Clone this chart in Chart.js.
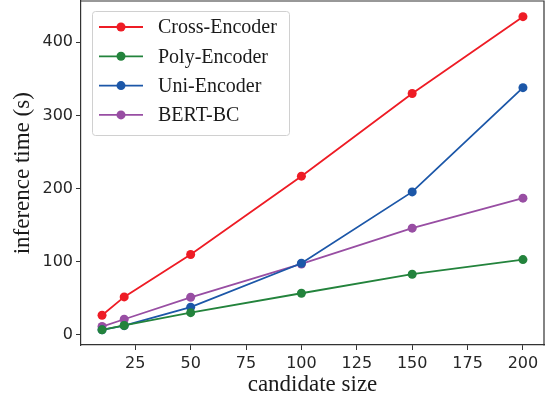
<!DOCTYPE html>
<html>
<head>
<meta charset="utf-8">
<script src="https://cdn.jsdelivr.net/npm/chart.js@4"></script>
<style>
  html, body { margin: 0; padding: 0; background: #fff; overflow: hidden; }
  #wrap { width: 547px; height: 401px; }
</style>
</head>
<body>
<div id="wrap"><canvas id="grafico"></canvas></div>
<script>
// dados
var tamanhos = [10, 20, 50, 100, 150, 200];
var crossEncoder = [27, 52, 110, 217, 330, 435];
var polyEncoder  = [7, 13, 30.5, 57, 83, 103];
var uniEncoder   = [7, 12.7, 38, 98, 195.5, 338];
var bertBC       = [11.5, 21.5, 51.5, 97, 146, 187];
var ticksX = [25, 50, 75, 100, 125, 150, 175, 200];
var ticksY = [0, 100, 200, 300, 400];

var series = [
    { nome: "Cross-Encoder", valores: crossEncoder, cor: "#ee1c25" },
    { nome: "Poly-Encoder",  valores: polyEncoder,  cor: "#23833c" },
    { nome: "Uni-Encoder",   valores: uniEncoder,   cor: "#1c57a8" },
    { nome: "BERT-BC",       valores: bertBC,       cor: "#984ea3" }
];

var datasets = series.map(function (s) {
    return {
        label: s.nome,
        data: tamanhos.map(function (x, i) { return { x: x, y: s.valores[i] }; }),
        borderColor: s.cor,
        backgroundColor: s.cor,
        borderWidth: 1.8,
        pointRadius: 4.5,
        pointHoverRadius: 4.5,
        pointBorderWidth: 0,
        tension: 0
    };
});

// legenda no estilo matplotlib (linha + marcador)
var legendaPlugin = {
    id: "legendaMpl",
    afterDatasetsDraw: function (chart) {
        var ctx = chart.ctx;
        var x0 = 92, y0 = 11, w = 197, h = 124;
        ctx.save();
        ctx.fillStyle = "rgba(255,255,255,0.85)";
        ctx.strokeStyle = "#d0d0d0";
        ctx.lineWidth = 1;
        ctx.beginPath();
        ctx.roundRect(x0 + 0.5, y0 + 0.5, w, h, 3);
        ctx.fill();
        ctx.stroke();
        ctx.font = "20px 'Liberation Serif', serif";
        ctx.textBaseline = "middle";
        series.forEach(function (s, i) {
            var y = 27 + i * 29.3;
            ctx.strokeStyle = s.cor;
            ctx.lineWidth = 1.8;
            ctx.beginPath();
            ctx.moveTo(99, y);
            ctx.lineTo(143, y);
            ctx.stroke();
            ctx.fillStyle = s.cor;
            ctx.beginPath();
            ctx.arc(121, y, 4.5, 0, Math.PI * 2);
            ctx.fill();
            ctx.fillStyle = "#1a1a1a";
            ctx.fillText(s.nome, 158, y + 1);
        });
        ctx.restore();
    }
};

new Chart(document.getElementById("grafico"), {
    type: "line",
    data: { datasets: datasets },
    options: {
        responsive: true,
        maintainAspectRatio: false,
        animation: false,
        layout: { padding: { top: 1, right: 3, left: 0, bottom: 0 } },
        plugins: {
            legend: { display: false },
            tooltip: { enabled: false }
        },
        scales: {
            x: {
                type: "linear",
                min: 0.5,
                max: 209.5,
                afterBuildTicks: function (scale) {
                    scale.ticks = ticksX.map(function (v) { return { value: v }; });
                },
                afterFit: function (scale) {
                    scale.height = 56;
                    scale.paddingLeft = 0;
                    scale.paddingRight = 0;
                },
                grid: { drawOnChartArea: false, tickLength: 5, tickColor: "#333", tickWidth: 1 },
                border: { color: "#333", width: 1.2 },
                ticks: {
                    color: "#262626",
                    padding: 4,
                    maxRotation: 0,
                    font: { family: "'DejaVu Sans', sans-serif", size: 16 }
                },
                title: {
                    display: true,
                    text: "candidate size",
                    color: "#1a1a1a",
                    padding: { top: 0, bottom: 2 },
                    font: { family: "'Liberation Serif', serif", size: 23 }
                }
            },
            y: {
                min: -14.4,
                max: 456.4,
                afterBuildTicks: function (scale) {
                    scale.ticks = ticksY.map(function (v) { return { value: v }; });
                },
                afterFit: function (scale) {
                    scale.width = 81;
                    scale.paddingTop = 0;
                    scale.paddingBottom = 0;
                },
                grid: { drawOnChartArea: false, tickLength: 5, tickColor: "#333", tickWidth: 1 },
                border: { color: "#333", width: 1.2 },
                ticks: {
                    color: "#262626",
                    padding: 3,
                    font: { family: "'DejaVu Sans', sans-serif", size: 16 }
                },
                title: {
                    display: true,
                    text: "inference time (s)",
                    color: "#1a1a1a",
                    padding: { top: 9, bottom: 0 },
                    font: { family: "'Liberation Serif', serif", size: 23 }
                }
            }
        }
    },
    plugins: [legendaPlugin, {
        id: "moldura",
        afterLayout: function (chart) {
            // força a área do gráfico para coincidir com a original
            var a = chart.chartArea;
            a.top = 1; a.bottom = 345.5; a.left = 81; a.right = 544;
            chart.scales.y.top = 1; chart.scales.y.bottom = 345.5;
            chart.scales.y.height = 344.5;
            chart.scales.y.configure();
            chart.scales.x.left = 81; chart.scales.x.right = 544;
            chart.scales.x.width = 463;
            chart.scales.x.configure();
        },
        afterDraw: function (chart) {
            var a = chart.chartArea, ctx = chart.ctx;
            ctx.save();
            ctx.strokeStyle = "#333";
            ctx.lineWidth = 1.2;
            ctx.beginPath();
            ctx.moveTo(a.left, a.top);
            ctx.lineTo(a.right, a.top);
            ctx.lineTo(a.right, a.bottom);
            ctx.stroke();
            ctx.restore();
        }
    }]
});
</script>
</body>
</html>
